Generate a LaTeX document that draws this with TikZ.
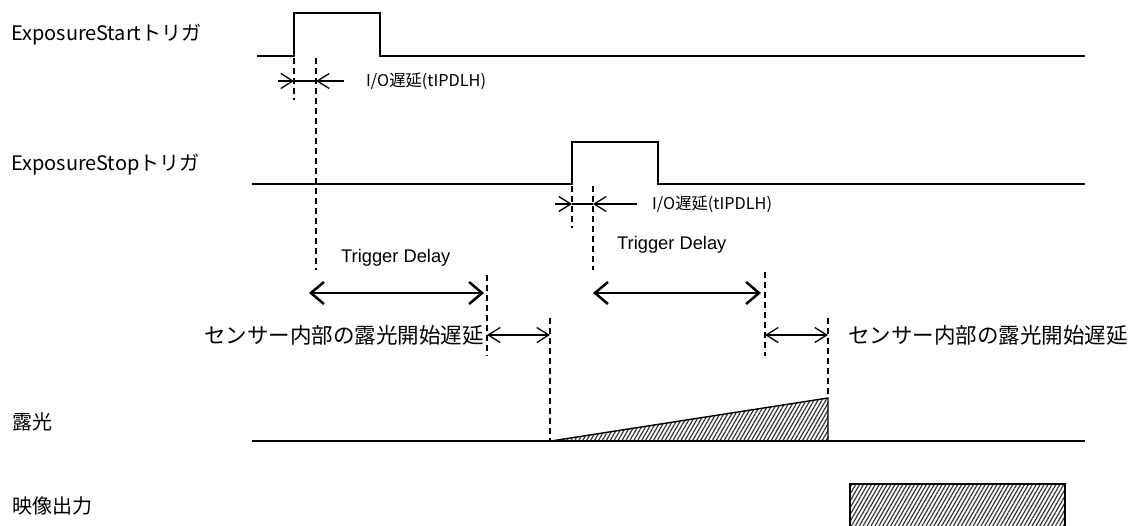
\documentclass[tikz,border=0pt]{standalone}
\usepackage{fontspec}
\setmainfont{Liberation Sans}
\newfontfamily\jp{Noto Sans CJK JP}
\usetikzlibrary{arrows.meta,patterns.meta}
\begin{document}
\begin{tikzpicture}[x=1pt,y=-1pt,
  sig/.style={line width=1.4pt,line join=miter},
  guide/.style={line width=1.2pt,dash pattern=on 6pt off 4pt},
  thickarr/.style={line width=2.5pt,{Straight Barb[length=13pt,width=22pt,line width=2.5pt]}-{Straight Barb[length=13pt,width=22pt,line width=2.5pt]}},
  thinarr/.style={line width=1.2pt,{Straight Barb[length=12pt,width=15pt,line width=1.3pt]}-{Straight Barb[length=12pt,width=15pt,line width=1.3pt]}},
  ioarr/.style={line width=1.2pt,-{Straight Barb[length=12pt,width=15pt,line width=1.3pt]}},
  lbl/.style={anchor=west,inner sep=0pt,font=\jp\fontsize{20}{20}\selectfont},
  iotxt/.style={anchor=west,inner sep=0pt,font=\jp\fontsize{16.3}{17}\selectfont},
  tdtxt/.style={anchor=west,inner sep=0pt,font=\fontsize{18.3}{19}\selectfont},
  sentxt/.style={anchor=west,inner sep=0pt,font=\jp\fontsize{21.5}{22}\selectfont},
  hatch/.style={pattern={Lines[angle=60,distance=3.4pt,line width=1.2pt]},pattern color=black!80}
]
\useasboundingbox (0,0) rectangle (1131,525);

% labels
\node[lbl] (lstart) at (11,35) {ExposureStartトリガ};
\node[lbl] (lstop) at (11,165) {ExposureStopトリガ};
\node[lbl] (lexp) at (12,422) {露光};
\node[lbl] (lout) at (12,506) {映像出力};

% ExposureStart signal
\coordinate (s0) at (257,56);
\coordinate (s1) at (294,56);
\coordinate (s2) at (294,13);
\coordinate (s3) at (380,13);
\coordinate (s4) at (380,56);
\coordinate (s5) at (1085,56);
\draw[sig] (s0) -- (s1) -- (s2) -- (s3) -- (s4) -- (s5);

% ExposureStop signal
\coordinate (p0) at (252,184);
\coordinate (p1) at (572,184);
\coordinate (p2) at (572,142);
\coordinate (p3) at (658,142);
\coordinate (p4) at (658,184);
\coordinate (p5) at (1085,184);
\draw[sig] (p0) -- (p1) -- (p2) -- (p3) -- (p4) -- (p5);

% guides
\coordinate (g1a) at (294,58); \coordinate (g1b) at (294,100);
\coordinate (g2a) at (316,58); \coordinate (g2b) at (316,270);
\coordinate (g3a) at (572,186); \coordinate (g3b) at (572,228);
\coordinate (g4a) at (593,186); \coordinate (g4b) at (593,270);
\coordinate (g5a) at (487,275); \coordinate (g5b) at (487,356);
\coordinate (g6a) at (550,318); \coordinate (g6b) at (550,441);
\coordinate (g7a) at (765,272); \coordinate (g7b) at (765,356);
\coordinate (g8a) at (828,318); \coordinate (g8b) at (828,398);
\foreach \g in {1,...,8} {\draw[guide] (g\g a) -- (g\g b);}

% I/O delay 1
\coordinate (io1l) at (278,81); \coordinate (io1lt) at (294,81);
\coordinate (io1r) at (344,81); \coordinate (io1rt) at (316,81);
\draw[ioarr] (io1l) -- (io1lt);
\draw[ioarr] (io1r) -- (io1rt);
\draw[line width=1.2pt] (io1lt) -- (io1rt);
\node[iotxt] (io1) at (366,81) {I/O遅延(tIPDLH)};

% I/O delay 2
\coordinate (io2l) at (555,204); \coordinate (io2lt) at (572,204);
\coordinate (io2r) at (637,204); \coordinate (io2rt) at (593,204);
\draw[ioarr] (io2l) -- (io2lt);
\draw[ioarr] (io2r) -- (io2rt);
\draw[line width=1.2pt] (io2lt) -- (io2rt);
\node[iotxt] (io2) at (652,204) {I/O遅延(tIPDLH)};

% Trigger delay
\node[tdtxt] (td1) at (341,258) {Trigger Delay};
\node[tdtxt] (td2) at (617,245) {Trigger Delay};
\coordinate (ta1) at (309,293); \coordinate (tb1) at (484,293);
\coordinate (ta2) at (593,293); \coordinate (tb2) at (761,293);
\draw[thickarr] (ta1) -- (tb1);
\draw[thickarr] (ta2) -- (tb2);

% sensor delays
\coordinate (sa1) at (487,335); \coordinate (sb1) at (550,335);
\coordinate (sa2) at (765,335); \coordinate (sb2) at (828,335);
\draw[thinarr] (sa1) -- (sb1);
\draw[thinarr] (sa2) -- (sb2);
\node[sentxt,anchor=east] (sen1) at (484,335) {センサー内部の露光開始遅延};
\node[sentxt] (sen2) at (848,335) {センサー内部の露光開始遅延};

% exposure
\coordinate (e0) at (252,441);
\coordinate (e1) at (551,441);
\coordinate (e2) at (828,398);
\coordinate (e3) at (828,441);
\coordinate (e4) at (1085,441);
\fill[hatch] (e1) -- (e2) -- (e3) -- cycle;
\draw[sig] (e1) -- (e2) -- (e3);
\draw[sig] (e0) -- (e4);

% video output
\coordinate (v0) at (850,484);
\coordinate (v1) at (1065,530);
\draw[line width=1.2pt,hatch] (v0) rectangle (v1);
\end{tikzpicture}
\end{document}
